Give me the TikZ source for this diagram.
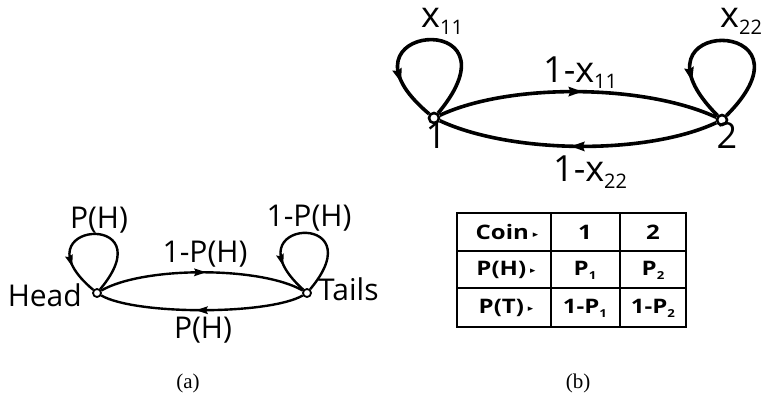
\documentclass[tikz,border=0pt]{standalone}
\usepackage{graphicx}
\usepackage{fontspec}
\setmainfont{Liberation Serif}
\newfontfamily\labelfont{Open Sans}
\newfontfamily\symfont{DejaVu Sans}
\usetikzlibrary{decorations.markings}

% lowered small indices
\newcommand{\subb}[1]{\raisebox{-7pt}{\fontsize{20}{20}\selectfont #1}}
\newcommand{\subt}[1]{\raisebox{-4pt}{\fontsize{11}{11}\selectfont #1}}
% table text, slightly widened
\newcommand{\widen}[1]{\scalebox{1.2}[1]{#1}}
\newcommand{\tri}{\,{\symfont\fontsize{9}{9}\selectfont\raisebox{0.45ex}{▸}}}

\tikzset{
  stsmall/.style={circle, draw, fill=white, inner sep=0pt, minimum size=8pt, line width=1.8pt},
  stbig/.style={circle, draw, fill=white, inner sep=0pt, minimum size=10pt, line width=2.6pt},
  edgea/.style={line width=2.4pt},
  edgeb/.style={line width=3.6pt},
  tipa/.style={postaction={decorate}, decoration={markings,
      mark=at position #1 with {\fill (6pt,0pt) -- (-6pt,4pt) -- (-4pt,0pt) -- (-6pt,-4pt) -- cycle;}}},
  tipb/.style={postaction={decorate}, decoration={markings,
      mark=at position #1 with {\fill (7pt,0pt) -- (-7pt,5pt) -- (-5pt,0pt) -- (-7pt,-5pt) -- cycle;}}},
  lbla/.style={font=\labelfont\fontsize{30}{30}\selectfont, inner sep=0pt},
  lblb/.style={font=\labelfont\fontsize{36}{36}\selectfont, inner sep=0pt},
  cell/.style={font=\labelfont\bfseries\fontsize{20}{20}\selectfont, inner sep=0pt},
  grid/.style={line width=2pt},
  caption/.style={font=\fontsize{21}{21}\selectfont, inner sep=0pt},
}

\begin{document}
\begin{tikzpicture}[x=1pt,y=1pt]
\useasboundingbox (0,0) rectangle (765,400);

% ---------- (a) coin states ----------
\node[stsmall] (H) at (97,107) {};
\node[stsmall] (T) at (307,107) {};

\draw[edgea, tipa=0.49] (H) to[out=30,in=150,looseness=0.62] (T);
\draw[edgea, tipa=0.5] (T) to[out=-150,in=-30,looseness=0.5] (H);
\draw[edgea, tipa=0.76] (H) .. controls +(50:110) and +(140:110) .. (H);
\draw[edgea, tipa=0.76] (T) .. controls +(50:110) and +(138:110) .. (T);

\node[lbla, anchor=base east] (hl) at (82,94) {Head};
\node[lbla, anchor=base west] (tl) at (318,100) {Tails};
\node[lbla, anchor=base] (htop) at (205,138) {1-P(H)};
\node[lbla, anchor=base] (hbot) at (203,62) {P(H)};
\node[lbla, anchor=base] (hloop) at (99,172) {P(H)};
\node[lbla, anchor=base] (tloop) at (309,174) {1-P(H)};

% ---------- (b) two coins ----------
\node[stbig] (C1) at (434,282) {};
\node[stbig] (C2) at (722,280) {};

\draw[edgeb, tipb=0.49] (C1) to[out=25,in=155,looseness=0.72] (C2);
\draw[edgeb, tipb=0.5] (C2) to[out=-155,in=-25,looseness=0.72] (C1);
\draw[edgeb, tipb=0.76] (C1) .. controls +(50:146) and +(140:146) .. (C1);
\draw[edgeb, tipb=0.76] (C2) .. controls +(45:148) and +(135:148) .. (C2);

\node[lblb, anchor=base] (n1) at (436,252) {1};
\node[lblb, anchor=base] (n2) at (727,252) {2};
\node[lblb, anchor=base west] (up) at (543,318) {1-x\subb{11}};
\node[lblb, anchor=base west] (dn) at (553,219) {1-x\subb{22}};
\node[lblb, anchor=base west] (l1) at (421,372) {x\subb{11}};
\node[lblb, anchor=base west] (l2) at (720,372) {x\subb{22}};

% ---------- table ----------
\draw[grid] (457,73) rectangle (686,187);
\draw[grid] (551,73) -- (551,187);
\draw[grid] (620,73) -- (620,187);
\draw[grid] (457,149) -- (686,149);
\draw[grid] (457,112) -- (686,112);

\node[cell] (r1c1) at (507,168) {\widen{Coin\tri}};
\node[cell] (r1c2) at (585,168) {\widen{1}};
\node[cell] (r1c3) at (653,168) {\widen{2}};
\node[cell] (r2c1) at (506,130) {\widen{P(H)\tri}};
\node[cell] (r2c2) at (585,130) {\widen{P\subt{1}}};
\node[cell] (r2c3) at (653,130) {\widen{P\subt{2}}};
\node[cell] (r3c1) at (506,92) {\widen{P(T)\tri}};
\node[cell] (r3c2) at (585,92) {\widen{1-P\subt{1}}};
\node[cell] (r3c3) at (653,92) {\widen{1-P\subt{2}}};

% ---------- captions ----------
\node[caption] (ca) at (188,17) {(a)};
\node[caption] (cb) at (578,17) {(b)};
\end{tikzpicture}
\end{document}
